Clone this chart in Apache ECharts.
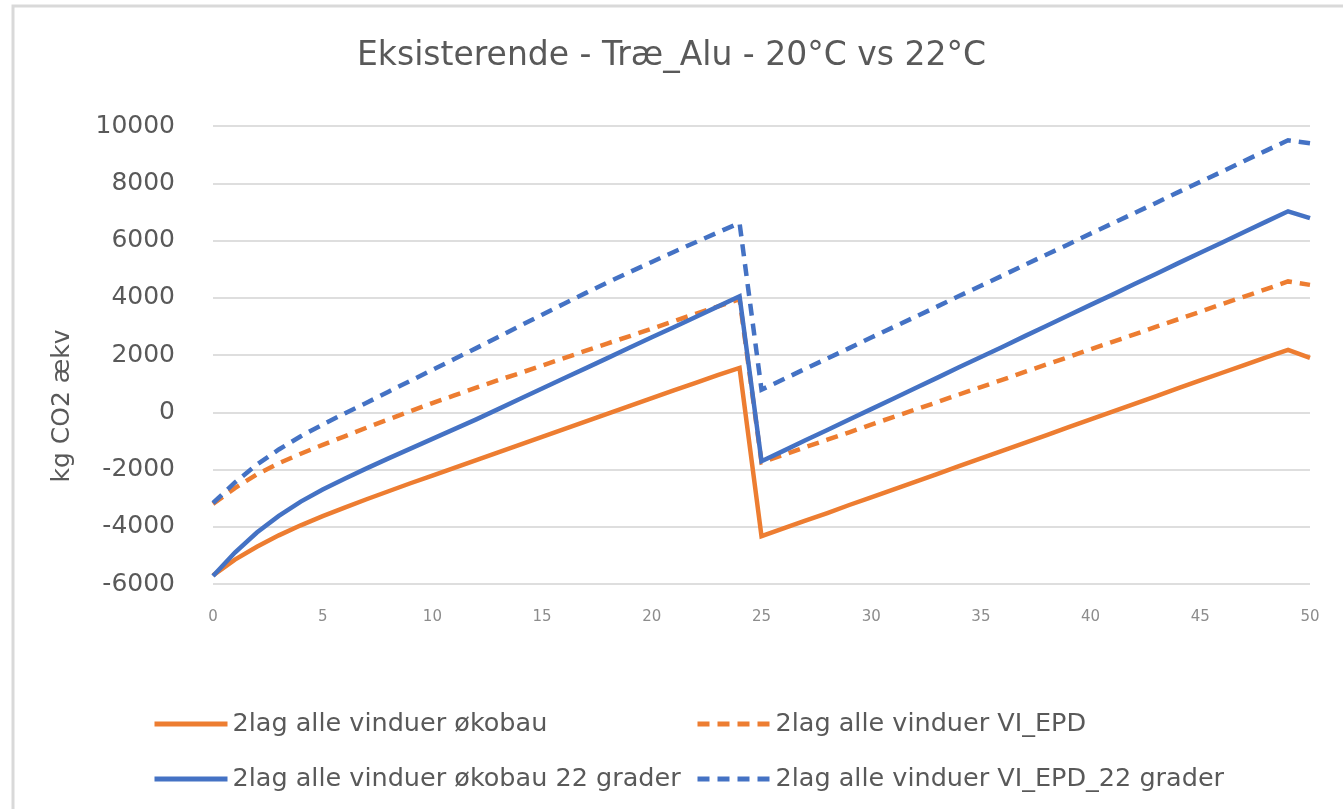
<!DOCTYPE html>
<html>
<head>
<meta charset="utf-8">
<script src="https://cdn.jsdelivr.net/npm/echarts@6/dist/echarts.min.js"></script>
<style>
html,body{margin:0;padding:0;background:#fff;}
#chart{width:1343px;height:809px;}
</style>
</head>
<body>
<div id="chart"></div>
<script>
const titleText = 'Eksisterende - Træ_Alu - 20°C vs 22°C';
const yAxisTitle = 'kg CO2 ækv';
const years = [0,1,2,3,4,5,6,7,8,9,10,11,12,13,14,15,16,17,18,19,20,21,22,23,24,25,26,27,28,29,30,31,32,33,34,35,36,37,38,39,40,41,42,43,44,45,46,47,48,49,50];
const seriesNames = ['2lag alle vinduer økobau','2lag alle vinduer VI_EPD','2lag alle vinduer økobau 22 grader','2lag alle vinduer VI_EPD_22 grader'];
const okobau = [-5700,-5150,-4700,-4300,-3950,-3630,-3330,-3040,-2760,-2480,-2210,-1940,-1670,-1400,-1130,-860,-590,-320,-50,220,490,760,1030,1300,1550,-4330,-4060,-3790,-3520,-3240,-2970,-2700,-2430,-2160,-1880,-1610,-1340,-1070,-800,-520,-250,20,290,560,840,1110,1380,1650,1920,2180,1900];
const viEpd = [-3200,-2650,-2170,-1780,-1450,-1140,-840,-540,-250,40,320,590,860,1120,1370,1630,1890,2150,2410,2660,2920,3180,3440,3690,3950,-1750,-1490,-1220,-960,-700,-430,-170,90,350,620,880,1140,1410,1670,1930,2200,2460,2720,2990,3250,3510,3780,4040,4300,4570,4450];
const okobau22 = [-5720,-4900,-4200,-3620,-3120,-2700,-2320,-1960,-1610,-1270,-930,-590,-250,110,470,830,1190,1540,1900,2260,2620,2970,3330,3690,4050,-1710,-1350,-980,-620,-250,110,470,840,1200,1570,1930,2290,2660,3020,3390,3750,4110,4480,4840,5210,5570,5930,6300,6660,7020,6780];
const viEpd22 = [-3170,-2450,-1830,-1300,-840,-430,-40,330,720,1100,1480,1860,2240,2630,3020,3410,3790,4170,4540,4900,5250,5600,5940,6280,6610,790,1150,1520,1880,2240,2610,2970,3330,3690,4060,4420,4780,5150,5510,5870,6240,6600,6960,7320,7690,8050,8410,8780,9140,9500,9400];

const ORANGE = '#ED7D31', BLUE = '#4472C4';
const FONT = 'DejaVu Sans';
function pairs(vals){ return years.map((x,i)=>[x, vals[i]]); }
function mk(name, vals, color, dashed){
  return {
    name: name, type: 'line', data: pairs(vals), symbol: 'none', showSymbol:false, smooth: false,
    lineStyle: {color: color, width: 4.5, type: dashed ? [12, 8] : 'solid', cap: 'butt', join:'miter'},
    itemStyle: {color: color}
  };
}
const chart = echarts.init(document.getElementById('chart'));
function legendAt(name, left, top){
  return {data:[name], left:left, top:top, itemWidth:73, itemHeight:14,
    itemStyle:{opacity:0}, lineStyle:{width:5},
    textStyle:{fontFamily:FONT, fontSize:25.5, color:'#595959'}, selectedMode:false};
}
chart.setOption({
  animation: false,
  backgroundColor: '#fff',
  title: {text: titleText, left: 'center', top: 35,
    textStyle:{fontFamily:FONT, fontSize:33, fontWeight:'normal', color:'#595959'}},
  grid: {left: 213, right: 33, top: 126, bottom: 225},
  xAxis: {type:'value', min:0, max:50, interval:5,
    axisLine:{show:false}, axisTick:{show:false}, splitLine:{show:false},
    axisLabel:{fontFamily:FONT, fontSize:15, color:'#8c8c8c', margin:26}},
  yAxis: {type:'value', min:-6000, max:10000, interval:2000,
    axisLine:{show:false}, axisTick:{show:false},
    splitLine:{lineStyle:{color:'#dedede', width:2}},
    axisLabel:{fontFamily:FONT, fontSize:25, color:'#595959', margin:38,
      formatter: v => String(v)}},
  legend: [
    legendAt(seriesNames[0], 147, 706),
    legendAt(seriesNames[1], 690, 706),
    legendAt(seriesNames[2], 147, 761),
    legendAt(seriesNames[3], 690, 761)
  ],
  graphic: [
    {type:'rect', shape:{x:13, y:6, width:1345, height:820}, style:{fill:'none', stroke:'#d9d9d9', lineWidth:3}, silent:true},
    {type:'text', x:62, y:406, rotation:Math.PI/2,
      style:{text:yAxisTitle, fontFamily:FONT, fontSize:25, fill:'#595959', align:'center', verticalAlign:'middle'}}
  ],
  series: [
    mk(seriesNames[0], okobau, ORANGE, false),
    mk(seriesNames[1], viEpd, ORANGE, true),
    mk(seriesNames[2], okobau22, BLUE, false),
    mk(seriesNames[3], viEpd22, BLUE, true)
  ]
});
</script>
</body>
</html>
